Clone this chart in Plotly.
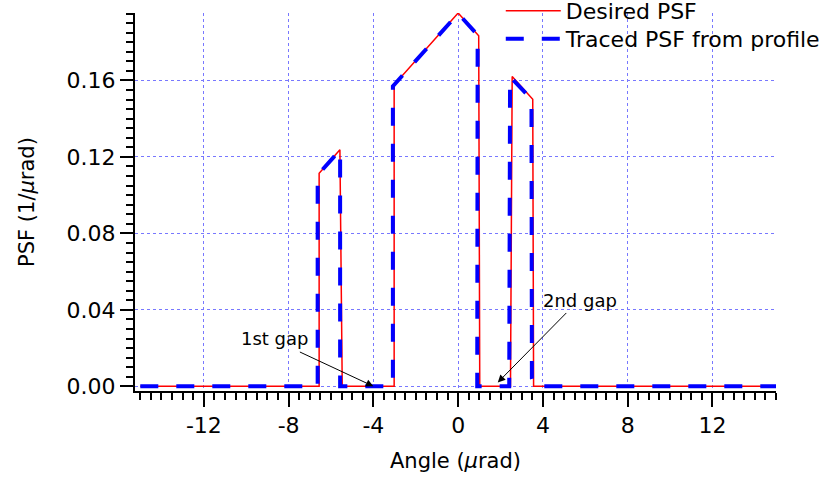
import plotly.graph_objects as go

# Desired PSF (red solid)
x_desired = [-15, -6.56, -6.56, -5.58, -5.47, -3.02, -3.02, 0.0, 0.97, 1.02, 2.47, 2.55, 3.52, 3.56, 15]
y_desired = [0, 0, 0.1115, 0.1237, 0, 0, 0.1577, 0.1953, 0.1834, 0, 0, 0.1621, 0.1502, 0, 0]

# Traced PSF from profile (blue dashed)
x_traced = [-15, -6.63, -6.63, -5.57, -5.57, -3.08, -3.08, 0.0, 0.92, 0.90, 2.41, 2.45, 3.46, 3.48, 3.58, 15]
y_traced = [0, 0, 0.1105, 0.1237, 0, 0, 0.1570, 0.1950, 0.1838, 0, 0, 0.1620, 0.1502, 0.004, 0, 0]

x_ticks = [-12, -8, -4, 0, 4, 8, 12]
x_ticktext = ["-12", "-8", "-4", "0", "4", "8", "12"]
y_ticks = [0.00, 0.04, 0.08, 0.12, 0.16]
y_ticktext = ["0.00", "0.04", "0.08", "0.12", "0.16"]

FONT = "DejaVu Sans"
GRID = "rgb(120,120,255)"

fig = go.Figure()
fig.add_trace(go.Scatter(x=x_desired, y=y_desired, mode="lines", name="Desired PSF", legend="legend",
                         line=dict(color="rgb(255,0,0)", width=1.5)))
fig.add_trace(go.Scatter(x=x_traced, y=y_traced, mode="lines", name="Traced PSF from profile", legend="legend2",
                         line=dict(color="rgb(0,0,255)", width=4, dash="18px,18px")))

leg_common = dict(xref="container", yref="paper", xanchor="left", yanchor="top",
                  bgcolor="rgba(0,0,0,0)", font=dict(size=22, family=FONT, color="black"), itemwidth=55)

fig.update_layout(
    width=825, height=483,
    margin=dict(l=135, r=49, t=13, b=92, autoexpand=False),
    paper_bgcolor="white", plot_bgcolor="white",
    font=dict(family=FONT, size=21, color="black"),
    showlegend=True,
    legend=dict(x=0.607, y=1.0608, **leg_common),
    legend2=dict(x=0.607, y=0.9868, **leg_common),
    xaxis=dict(
        range=[-15.25, 15.0], tickvals=x_ticks, ticktext=x_ticktext, ticks="outside", ticklen=14, tickwidth=1.5,
        tickcolor="black", showline=True, linecolor="black", linewidth=2, zeroline=False, automargin=False,
        showgrid=True, gridcolor=GRID, griddash="dot", gridwidth=1,
        minor=dict(dtick=0.5, tick0=0, ticks="outside", ticklen=7, tickwidth=1.5, tickcolor="black", showgrid=False),
        title=dict(text="Angle (<i>µ</i>rad)", standoff=16, font=dict(size=21)),
        tickfont=dict(size=22),
    ),
    yaxis=dict(
        range=[-0.00246, 0.1953], tickvals=y_ticks, ticktext=y_ticktext, ticks="outside", ticklen=13,
        tickwidth=1.5, tickcolor="black", showline=True, linecolor="black", linewidth=2, zeroline=False,
        automargin=False,
        showgrid=True, gridcolor=GRID, griddash="dot", gridwidth=1,
        minor=dict(dtick=0.005, tick0=0, ticks="outside", ticklen=7, tickwidth=1.5, tickcolor="black", showgrid=False),
        title=dict(text="PSF (1/<i>µ</i>rad)", standoff=26, font=dict(size=21)),
        tickfont=dict(size=22),
    ),
)

# Annotation texts
fig.add_annotation(x=-4, y=0, xref="x", yref="y", text="1st gap", showarrow=False,
                   xshift=-98, yshift=48, font=dict(size=18, family=FONT, color="black"))
fig.add_annotation(x=1.87, y=0, xref="x", yref="y", text="2nd gap", showarrow=False,
                   xshift=82, yshift=86, font=dict(size=18, family=FONT, color="black"))
# Arrows
fig.add_annotation(x=-4, y=0, xref="x", yref="y", text="", showarrow=True, ax=-75, ay=-35,
                   arrowhead=2, arrowsize=1.5, arrowwidth=1, arrowcolor="black", standoff=0)
fig.add_annotation(x=1.87, y=0.002, xref="x", yref="y", text="", showarrow=True, ax=70, ay=-71,
                   arrowhead=2, arrowsize=1.5, arrowwidth=1, arrowcolor="black", standoff=0)

fig.write_html("out.html", config={"displayModeBar": False},
               post_script="document.body.style.margin='0';document.body.style.overflow='hidden';")
